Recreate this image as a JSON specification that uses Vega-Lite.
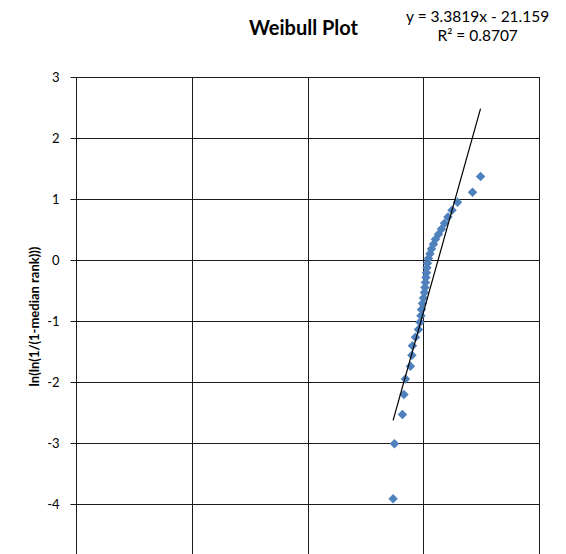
{
  "$schema": "https://vega.github.io/schema/vega-lite/v6.json",
  "width": 463,
  "height": 488,
  "autosize": {"type": "none"},
  "padding": {"left": 76, "top": 77, "right": 27, "bottom": 0},
  "background": "white",
  "title": {
    "text": "Weibull Plot",
    "font": "Lato",
    "fontSize": 20,
    "fontWeight": "bold",
    "color": "#000000",
    "anchor": "middle",
    "frame": "group",
    "baseline": "alphabetic",
    "offset": -45,
    "dx": -4
  },
  "config": {
    "view": {"stroke": "#1a1a1a", "strokeWidth": 1},
    "axis": {
      "gridColor": "#1a1a1a",
      "gridWidth": 1,
      "gridOpacity": 1,
      "domainColor": "#1a1a1a",
      "tickColor": "#1a1a1a",
      "labelFont": "Lato",
      "labelFontSize": 13,
      "labelColor": "#000000",
      "titleFont": "Lato",
      "titleFontSize": 13,
      "titleFontWeight": "bold",
      "titleColor": "#000000"
    }
  },
  "datasets": {
    "points": [
      {"x": 5.479, "y": -3.913},
      {"x": 5.502, "y": -3.012},
      {"x": 5.640, "y": -2.534},
      {"x": 5.666, "y": -2.204},
      {"x": 5.692, "y": -1.949},
      {"x": 5.779, "y": -1.740},
      {"x": 5.804, "y": -1.562},
      {"x": 5.813, "y": -1.405},
      {"x": 5.865, "y": -1.266},
      {"x": 5.917, "y": -1.139},
      {"x": 5.943, "y": -1.022},
      {"x": 5.960, "y": -0.913},
      {"x": 5.969, "y": -0.811},
      {"x": 5.986, "y": -0.715},
      {"x": 6.003, "y": -0.623},
      {"x": 6.021, "y": -0.534},
      {"x": 6.029, "y": -0.449},
      {"x": 6.038, "y": -0.367},
      {"x": 6.047, "y": -0.286},
      {"x": 6.055, "y": -0.207},
      {"x": 6.064, "y": -0.129},
      {"x": 6.073, "y": -0.052},
      {"x": 6.090, "y": 0.025},
      {"x": 6.116, "y": 0.102},
      {"x": 6.142, "y": 0.179},
      {"x": 6.176, "y": 0.258},
      {"x": 6.211, "y": 0.339},
      {"x": 6.263, "y": 0.422},
      {"x": 6.315, "y": 0.510},
      {"x": 6.367, "y": 0.602},
      {"x": 6.427, "y": 0.703},
      {"x": 6.497, "y": 0.815},
      {"x": 6.592, "y": 0.945},
      {"x": 6.851, "y": 1.111},
      {"x": 6.990, "y": 1.367}
    ],
    "trend": [
      {"x": 5.479, "y": -2.629},
      {"x": 6.990, "y": 2.481}
    ],
    "equation": [
      {"label": "y = 3.3819x - 21.159\nR² = 0.8707"}
    ]
  },
  "layer": [
    {
      "data": {"name": "points"},
      "mark": {"type": "point", "shape": "diamond", "filled": true, "size": 90, "color": "#4F81BD", "opacity": 1},
      "encoding": {
        "x": {
          "field": "x", "type": "quantitative",
          "scale": {"domain": [0, 8], "nice": false, "zero": false},
          "axis": {"values": [0, 2, 4, 6, 8], "title": null, "tickSize": 6, "labelPadding": 11, "labelExpr": "toString(datum.value)"}
        },
        "y": {
          "field": "y", "type": "quantitative",
          "scale": {"domain": [-5, 3], "nice": false, "zero": false},
          "axis": {"values": [-5, -4, -3, -2, -1, 0, 1, 2, 3], "title": "ln(ln(1/(1-median rank)))", "tickSize": 6, "labelPadding": 11, "titlePadding": 5, "titleY": 239, "labelExpr": "toString(datum.value)"}
        }
      }
    },
    {
      "data": {"name": "trend"},
      "mark": {"type": "line", "color": "#000000", "strokeWidth": 1.2},
      "encoding": {
        "x": {"field": "x", "type": "quantitative"},
        "y": {"field": "y", "type": "quantitative"}
      }
    },
    {
      "data": {"name": "equation"},
      "mark": {"type": "text", "lineBreak": "\n", "align": "center", "baseline": "alphabetic", "font": "Lato", "fontSize": 15.5, "lineHeight": 19, "color": "#000000"},
      "encoding": {
        "x": {"datum": 6.94},
        "y": {"datum": 3.9},
        "text": {"field": "label"}
      }
    }
  ]
}
